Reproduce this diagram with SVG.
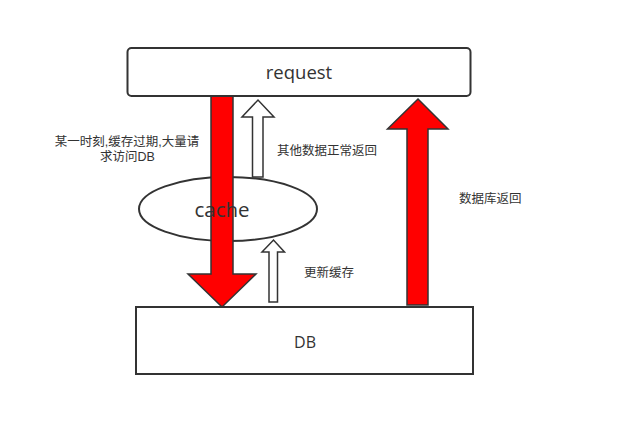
<svg xmlns="http://www.w3.org/2000/svg" width="634" height="436" viewBox="0 0 634 436">
<style>
.box{fill:#fff;stroke:#333;stroke-width:2}
.red{fill:#ff0000;stroke:#333;stroke-width:1.5;stroke-linejoin:miter}
.hollow{fill:#fff;stroke:#333;stroke-width:1.5}
.lbl{font-family:"Open Sans","Noto Sans CJK SC",sans-serif;fill:#333}
.cn{font-family:"Noto Sans CJK SC","Open Sans",sans-serif;font-size:12.5px;fill:#333}
.cn2{font-family:"Liberation Sans","Noto Sans CJK SC",sans-serif;font-size:12.5px;fill:#333}
</style>
<rect width="634" height="436" fill="#fff"/>
<g id="cache">
<ellipse class="box" cx="228" cy="209" rx="89" ry="32"/>
</g>
<g id="connectors">
<polygon id="expire-requests" class="red" points="211,94 233,94 233,274 256,274 222,307 188,274 211,274"/>
<polygon id="other-return" class="hollow" points="252.5,177 263,177 263,117 274,117 258,100 242,117 252.5,117"/>
<polygon id="update-cache" class="hollow" points="269,302 277.5,302 277.5,252 284.5,252 273.5,240 262,252 269,252"/>
<polygon id="db-return" class="red" points="407,305 428,305 428,129 448,129 418,99 387.5,129 407,129"/>
</g>
<g id="cache-label">
<text class="lbl" x="222" y="217" font-size="20.5" text-anchor="middle">cache</text>
</g>
<g id="request">
<rect class="box" x="127.5" y="48" width="343" height="48" rx="4"/>
<text class="lbl" x="299" y="79" font-size="18.5" text-anchor="middle">request</text>
</g>
<g id="db">
<rect class="box" x="136" y="307" width="337" height="67"/>
<text class="lbl" x="305" y="348" font-size="16" text-anchor="middle">DB</text>
</g>
<g id="labels">
<text class="cn2" x="127" y="146" text-anchor="middle">某一时刻,缓存过期,大量请</text>
<text class="cn2" x="127.5" y="161" text-anchor="middle">求访问DB</text>
<text class="cn" x="277" y="155">其他数据正常返回</text>
<text class="cn" x="304" y="277">更新缓存</text>
<text class="cn" x="459" y="203">数据库返回</text>
</g>
</svg>
